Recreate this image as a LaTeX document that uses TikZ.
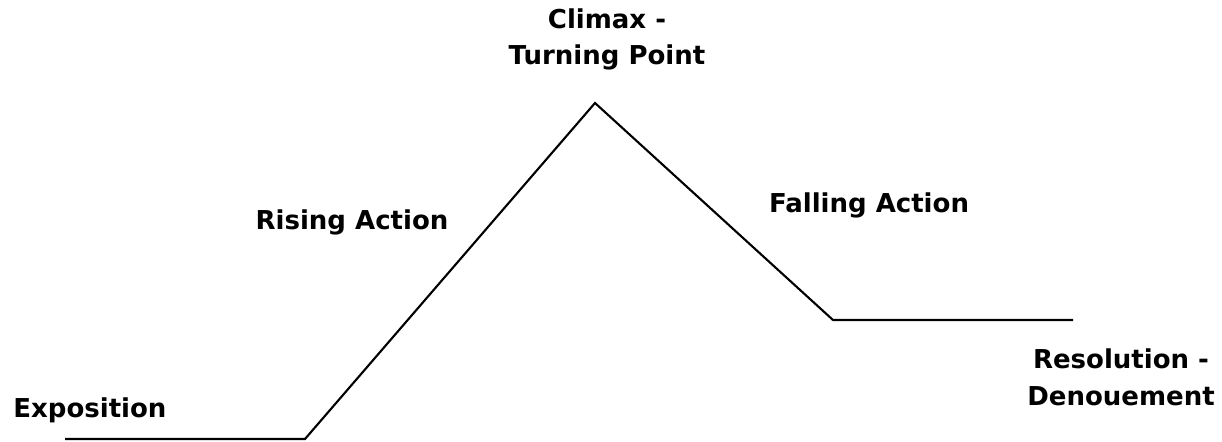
\documentclass[tikz,border=0pt]{standalone}
\usepackage{fontspec}
\setmainfont{DejaVu Sans}
\usepackage{tikz}
\usetikzlibrary{positioning}

\begin{document}
\begin{tikzpicture}[
    x=0.02cm, y=-0.02cm,
    every node/.style={inner sep=0pt},
    plotline/.style={line width=1.2pt, draw=black, line join=miter},
    stage/.style   ={font=\fontsize{14.8}{20.5}\selectfont\bfseries,
                     align=center, anchor=base},
  ]

  %% --- canvas -----------------------------------------------------------
  \useasboundingbox (0,0) rectangle (1222,442);

  %% --- plot line --------------------------------------------------------
  \coordinate (start)   at (65,439);
  \coordinate (rise)    at (305,439);
  \coordinate (peak)    at (595,103);
  \coordinate (fall)    at (833,320);
  \coordinate (finish)  at (1073,320);
  \draw[plotline] (start) -- (rise) -- (peak) -- (fall) -- (finish);

  %% --- stage labels (base = last line) ----------------------------------
  \node[stage] (climax)     at (607,65)  {Climax -\\Turning Point};
  \node[stage] (rising)     at (352,229) {Rising Action};
  \node[stage] (falling)    at (869,213) {Falling Action};
  \node[stage] (resolution) at (1121,405) {Resolution -\\Denouement};
  \node[stage, anchor=base west] (exposition) at (13,417) {Exposition};

\end{tikzpicture}
\end{document}
